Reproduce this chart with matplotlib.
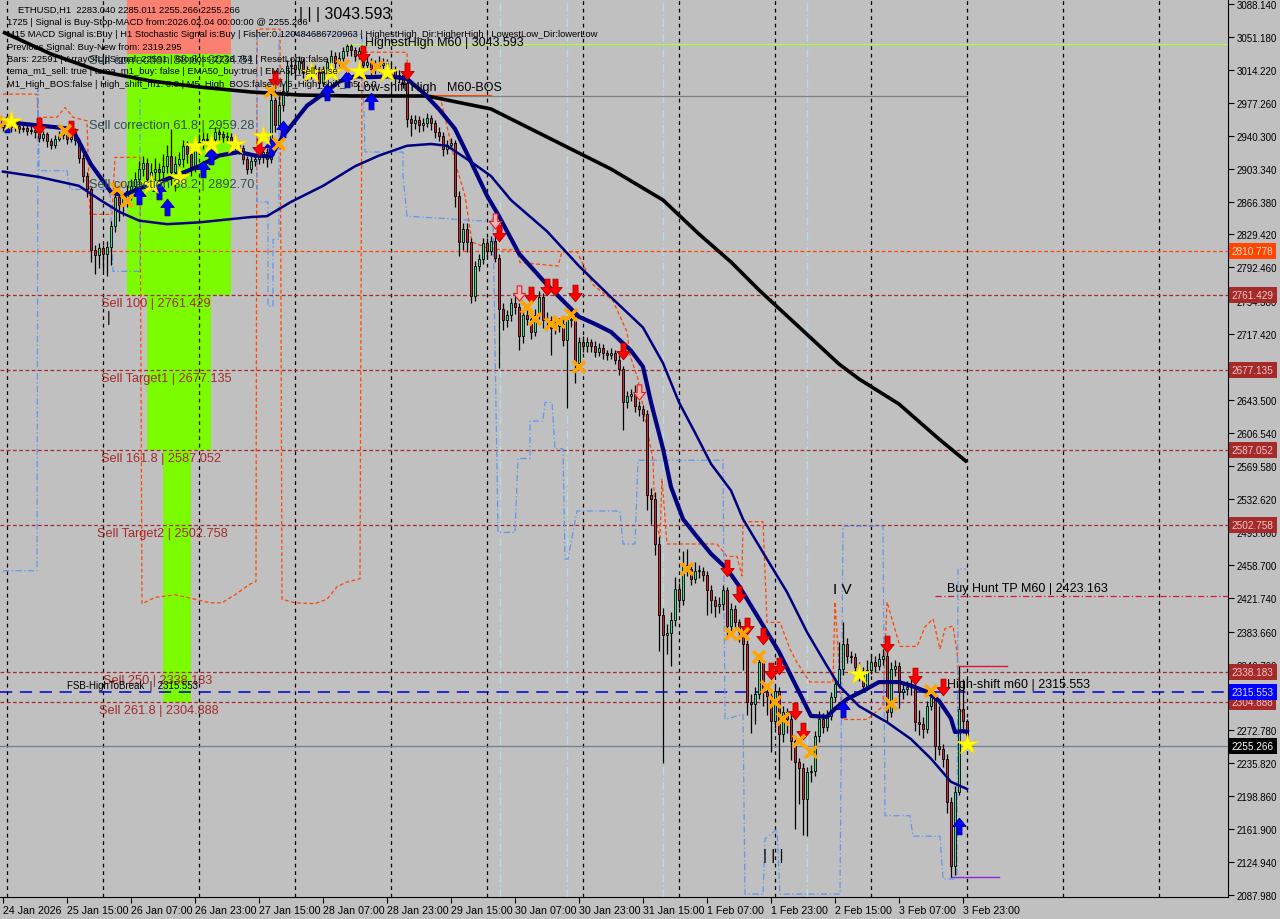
import matplotlib
matplotlib.use('Agg')
import matplotlib.pyplot as plt
import matplotlib.transforms as mtransforms
from matplotlib.path import Path
from matplotlib.patches import Rectangle
import numpy as np

plt.rcParams['font.family'] = ['Liberation Sans', 'DejaVu Sans']

# ---------------- data ----------------
closes = [2955, 2953, 2950, 2951, 2948, 2949, 2946, 2947, 2944, 2938,
          2942, 2934, 2930, 2937, 2941, 2943, 2937, 2945, 2935, 2915,
          2895, 2880, 2812, 2806, 2814, 2807, 2815, 2839, 2872, 2862,
          2870, 2878, 2884, 2892, 2903, 2910, 2892, 2899, 2903, 2899,
          2906, 2918, 2899, 2908, 2914, 2929, 2920, 2903, 2929, 2933,
          2937, 2935, 2937, 2944, 2942, 2939, 2939, 2931, 2931, 2927,
          2914, 2903, 2912, 2914, 2916, 2922, 2914, 2980, 2952, 2975,
          2990, 3018, 3020, 3015, 3024, 3012, 3010, 3015, 3012, 3000,
          3012, 3023, 3030, 3022, 3028, 3035, 3041, 3037, 3030, 3035,
          3020, 3023, 3015, 3018, 3020, 3022, 3013, 3015, 3005, 3008,
          3000, 2959, 2955, 2958, 2952, 2955, 2960, 2954, 2945, 2940,
          2925, 2930, 2932, 2873, 2821, 2836, 2821, 2760, 2794, 2802,
          2820, 2811, 2822, 2803, 2746, 2733, 2739, 2752, 2748, 2715,
          2739, 2735, 2720, 2739, 2759, 2733, 2733, 2724, 2727, 2729,
          2711, 2733, 2735, 2685, 2709, 2704, 2709, 2704, 2698, 2702,
          2696, 2694, 2696, 2689, 2678, 2641, 2648, 2650, 2637, 2633,
          2628, 2537, 2532, 2482, 2402, 2380, 2382, 2397, 2432, 2419,
          2458, 2454, 2443, 2452, 2452, 2447, 2430, 2419, 2412, 2415,
          2430, 2390, 2409, 2394, 2383, 2370, 2305, 2302, 2314, 2349,
          2316, 2311, 2283, 2317, 2269, 2293, 2286, 2261, 2237, 2230,
          2196, 2226, 2227, 2266, 2286, 2277, 2289, 2310, 2325, 2342,
          2370, 2356, 2355, 2344, 2338, 2323, 2340, 2349, 2345, 2353,
          2356, 2293, 2342, 2345, 2316, 2319, 2321, 2323, 2282, 2280,
          2274, 2300, 2310, 2255, 2252, 2241, 2192, 2120, 2204, 2297,
          2283.04, 2255.266]

highs = [2960, 2958, 2956, 2955, 2954, 2953, 2952, 2951, 2950, 2948,
         2946, 2945, 2938, 2941, 2946, 2950, 2947, 2950, 2949, 2938,
         2920, 2900, 2884, 2818, 2820, 2818, 2822, 2845, 2880, 2878,
         2876, 2885, 2892, 2900, 2912, 2918, 2915, 2910, 2915, 2910,
         2920, 2930, 2948, 2918, 2922, 2935, 2934, 2925, 2936, 2942,
         2945, 2943, 2941, 2950, 2948, 2946, 2944, 2943, 2936, 2934,
         2930, 2918, 2918, 2920, 2922, 2928, 2926, 2988, 2992, 2985,
         2998, 3025, 3028, 3026, 3030, 3028, 3018, 3022, 3020, 3016,
         3018, 3028, 3036, 3034, 3034, 3040, 3043.593, 3043, 3040, 3040,
         3038, 3030, 3028, 3025, 3030, 3028, 3026, 3022, 3018, 3014,
         3012, 3004, 2964, 2963, 2962, 2960, 2966, 2964, 2958, 2950,
         2944, 2936, 2938, 2935, 2878, 2842, 2842, 2826, 2800, 2808,
         2826, 2825, 2828, 2830, 2808, 2752, 2745, 2758, 2760, 2752,
         2744, 2745, 2740, 2746, 2766, 2764, 2742, 2738, 2734, 2736,
         2734, 2738, 2748, 2740, 2714, 2716, 2714, 2712, 2710, 2708,
         2706, 2700, 2702, 2700, 2694, 2682, 2654, 2656, 2660, 2642,
         2638, 2632, 2545, 2540, 2490, 2410, 2392, 2406, 2445, 2438,
         2474, 2476, 2460, 2462, 2458, 2456, 2452, 2436, 2424, 2422,
         2436, 2434, 2416, 2414, 2398, 2388, 2374, 2314, 2322, 2356,
         2352, 2322, 2316, 2324, 2322, 2300, 2298, 2292, 2266, 2242,
         2236, 2232, 2234, 2272, 2294, 2292, 2296, 2316, 2332, 2372,
         2394, 2376, 2362, 2360, 2350, 2344, 2352, 2358, 2356, 2360,
         2364, 2362, 2350, 2352, 2350, 2326, 2328, 2330, 2328, 2296,
         2288, 2306, 2318, 2316, 2300, 2258, 2246, 2198, 2210, 2345,
         2330, 2285.011]

lows = [2946, 2948, 2945, 2946, 2943, 2944, 2941, 2942, 2938, 2933,
        2934, 2928, 2925, 2927, 2934, 2937, 2931, 2933, 2930, 2910,
        2888, 2872, 2798, 2785, 2792, 2788, 2783, 2795, 2832, 2845,
        2850, 2860, 2868, 2876, 2885, 2895, 2880, 2882, 2890, 2888,
        2890, 2898, 2885, 2878, 2900, 2905, 2910, 2895, 2900, 2920,
        2925, 2928, 2929, 2932, 2935, 2933, 2934, 2925, 2924, 2920,
        2908, 2897, 2898, 2906, 2908, 2910, 2905, 2910, 2945, 2948,
        2968, 2985, 3008, 3006, 3010, 3005, 3002, 3004, 3005, 2994,
        2996, 3008, 3018, 3016, 3018, 3024, 3030, 3030, 3024, 3026,
        3014, 3015, 3009, 3010, 3012, 3015, 3006, 3008, 2998, 2999,
        2994, 2950, 2940, 2948, 2945, 2946, 2950, 2947, 2938, 2934,
        2918, 2920, 2925, 2860, 2805, 2812, 2810, 2753, 2755, 2788,
        2796, 2804, 2806, 2798, 2680, 2722, 2726, 2732, 2740, 2700,
        2708, 2728, 2712, 2715, 2734, 2725, 2724, 2694, 2718, 2720,
        2704, 2635, 2726, 2663, 2680, 2698, 2698, 2698, 2692, 2693,
        2690, 2688, 2690, 2684, 2672, 2610, 2635, 2642, 2630, 2626,
        2620, 2520, 2505, 2470, 2362, 2236, 2358, 2345, 2390, 2410,
        2414, 2446, 2436, 2438, 2444, 2440, 2402, 2404, 2400, 2405,
        2408, 2380, 2382, 2385, 2372, 2340, 2290, 2270, 2280, 2308,
        2300, 2290, 2248, 2276, 2218, 2260, 2270, 2240, 2162, 2190,
        2155, 2154, 2215, 2222, 2260, 2270, 2272, 2284, 2305, 2320,
        2335, 2348, 2348, 2336, 2328, 2316, 2318, 2336, 2338, 2340,
        2346, 2282, 2288, 2334, 2298, 2308, 2312, 2312, 2272, 2268,
        2264, 2270, 2296, 2240, 2245, 2232, 2180, 2108, 2110, 2200,
        2270, 2255.266]

first_open = 2950
opens = [first_open] + closes[:-1]

time_ticks = list(range(0, 241, 16))
time_labels = ['24 Jan 2026', '25 Jan 15:00', '26 Jan 07:00', '26 Jan 23:00', '27 Jan 15:00',
               '28 Jan 07:00', '28 Jan 23:00', '29 Jan 15:00', '30 Jan 07:00', '30 Jan 23:00',
               '31 Jan 15:00', '1 Feb 07:00', '1 Feb 23:00', '2 Feb 15:00', '3 Feb 07:00',
               '3 Feb 23:00']
day_starts = list(range(1, 300, 24))

price_ticks = [3088.140, 3051.180, 3014.220, 2977.260, 2940.300, 2903.340, 2866.380,
               2829.420, 2792.460, 2754.380, 2717.420, 2680.460, 2643.500, 2606.540,
               2569.580, 2532.620, 2495.660, 2458.700, 2421.740, 2383.660, 2346.700,
               2309.740, 2272.780, 2235.820, 2198.860, 2161.900, 2124.940, 2087.980]

# moving averages (bar index, price)
ma200_idx = [0, 12, 24, 37, 49, 62, 74, 87, 106, 122, 137, 152, 157, 165, 174, 182, 189,
             199, 209, 214, 224, 234, 241]
ma200_val = [3056.7, 3032.0, 3012.9, 3001.7, 2995.0, 2989.4, 2986.0, 2984.9, 2984.9, 2970.3,
             2936.6, 2902.9, 2889.5, 2868.1, 2829.9, 2798.5, 2767.1, 2725.6, 2684.0, 2667.2,
             2639.1, 2599.8, 2574.0]

ema_fast_idx = [0, 17, 18, 22, 27, 30, 34, 39, 44, 49, 54, 59, 63, 67, 70, 76, 80, 84, 88, 92,
                97, 101, 105, 109, 113, 117, 121, 124, 129, 136, 140, 144, 148, 152, 157, 160,
                162, 165, 167, 170, 173, 177, 181, 184, 189, 194, 199, 202, 206, 208, 211, 215,
                219, 224, 227, 231, 234, 237, 238, 240, 241]
ema_fast_val = [2956, 2948, 2942, 2908, 2877, 2873, 2881, 2888, 2897, 2906, 2918, 2922, 2918,
                2917, 2940, 2974, 2987, 3001, 3007, 3006, 3007, 3004, 2989, 2970, 2948, 2911,
                2873, 2850, 2808, 2773, 2755, 2737, 2729, 2720, 2699, 2681, 2641, 2589, 2546,
                2510, 2493, 2471, 2454, 2435, 2398, 2361, 2316, 2289, 2288, 2297, 2308, 2317,
                2327, 2327, 2323, 2316, 2306, 2286, 2271, 2272, 2271]

ema_slow_idx = [0, 9, 19, 24, 29, 34, 41, 49, 62, 66, 72, 80, 88, 94, 101, 107, 111, 113, 117,
                122, 127, 136, 144, 152, 160, 165, 169, 173, 177, 182, 185, 191, 196, 201, 206,
                209, 214, 221, 227, 232, 237, 241]
ema_slow_val = [2900, 2894, 2884, 2869, 2855, 2845, 2841, 2843, 2849, 2850, 2866, 2884, 2906,
                2918, 2929, 2931, 2929, 2923, 2911, 2895, 2868, 2833, 2794, 2759, 2725, 2685,
                2641, 2607, 2572, 2542, 2510, 2465, 2428, 2383, 2345, 2323, 2300, 2282, 2263,
                2241, 2215, 2207]

# channel lines (bar index, price)
upper_idx = [0, 8.5, 8.75, 13.5, 15.5, 17.5, 21, 21.75, 27.25, 28, 34.25, 34.75, 38, 43, 48,
             51.75, 54.75, 58, 61.75, 63.25, 63.5, 69.25, 69.75, 73, 78, 81, 83.5, 85.75, 89.25,
             89.75, 101, 101.25, 109.25, 111, 113, 115.5, 117.25, 121.75, 128.5, 129.25, 138.75,
             139.75, 143.5, 147.5, 152.5, 156, 156.75, 158.75, 160.5, 162.5, 163, 164.25, 164.75,
             166, 178.5, 181, 183.5, 184.75, 185, 190, 191, 194.25, 196.75, 198.5, 201.75, 207.5,
             208, 209.25, 209.75, 216, 220, 221, 224.25, 228.5, 230.5, 232.5, 234.25, 235.5,
             237.5, 238.5, 239.25, 240.75]
upper_val = [2987, 2987, 2961, 2961, 2972, 2961, 2957, 2852, 2852, 2916, 2916, 2415, 2422, 2425,
             2420, 2416, 2416, 2425, 2437, 2440, 3060, 3060, 2420, 2416, 2415, 2420, 2434, 2439,
             2443, 3034, 3034, 2985, 2985, 2951, 2911, 2873, 2821, 2813, 2812, 2798, 2794, 2810,
             2810, 2773, 2755, 2720, 2694, 2667, 2624, 2576, 2510, 2489, 2555, 2482, 2482, 2468,
             2468, 2446, 2507, 2507, 2394, 2394, 2364, 2349, 2327, 2327, 2417, 2330, 2285, 2285,
             2300, 2417, 2367, 2367, 2389, 2398, 2364, 2387, 2390, 2361, 2297, 2285]

lower_idx = [0, 8.5, 8.75, 9, 16, 16.75, 26.75, 27.5, 34.25, 34.25, np.nan, 63.5, 63.5, 66.25,
             66.25, 67.5, 67.5, 69, 69, 89.75, 90.5, 100, 100, 101, 121.75, 122.5, 123.75, 128,
             128.75, 131.75, 131.75, 135, 135.5, 137.25, 138, 140, 140.5, 141.25, 143.5, 154.25,
             155, 158, 158.75, 180, 180.5, 185, 185.5, 190, 190.5, 193.5, 194.25, 209.25, 210,
             220, 220.5, 226.75, 227.5, 234.25, 235, 238.5, 238.75, 240.75]
lower_val = [2452, 2452, 2993, 2901, 2901, 2880, 2880, 2788, 2788, 2981, np.nan, 3054, 2866,
             2866, 2749, 2749, 2824, 2824, 3054, 3054, 2922, 2922, 2895, 2850, 2844, 2847, 2495,
             2495, 2578, 2578, 2620, 2620, 2641, 2641, 2589, 2589, 2465, 2465, 2519, 2519, 2482,
             2482, 2576, 2576, 2285, 2291, 2089, 2089, 2151, 2162, 2089, 2089, 2502, 2502, 2177,
             2177, 2154, 2154, 2106, 2106, 2454, 2454]

# signals
sell_idx = [9, 17, 64, 68, 90, 101, 124, 132, 136, 138, 143, 155, 181, 184, 186, 190, 192, 194,
            198, 200, 221, 228, 235]
sell_val = [2951, 2948, 2928, 3004, 3032, 3013, 2831, 2761, 2770, 2770, 2764, 2699, 2455, 2426,
            2390, 2379, 2339, 2345, 2295, 2272, 2370, 2334, 2321]
sell_hollow_idx = [123, 129, 159]
sell_hollow_val = [2844, 2764, 2653]
buy_idx = [1, 34, 39, 41, 50, 52, 67, 70, 81, 86, 92, 210, 239]
buy_val = [2953, 2873, 2878, 2860, 2903, 2917, 2928, 2948, 2989, 3004, 2979, 2297, 2165]
star_idx = [2, 37, 44, 48, 52, 58, 65, 77, 82, 89, 96, 214, 241]
star_val = [2957, 2886, 2894, 2929, 2931, 2931, 2940, 3012, 3012, 3013, 3012, 2336, 2257]
cross_idx = [0.5, 15.5, 28.5, 31, 67, 69, 85, 93.5, 131, 133, 137, 139, 142, 144, 171, 182, 185,
             189, 191, 193, 195, 199, 202, 222, 232]
cross_val = [2956, 2946, 2880, 2867, 2990, 2931, 3019, 3017, 2748, 2734, 2729, 2731, 2739, 2681,
             2454, 2381, 2381, 2355, 2321, 2305, 2286, 2261, 2248, 2302, 2317]

# levels
fib_names = ['Sell 100', 'Sell Target1', 'Sell 161.8', 'Sell Target2', 'Sell 250', 'Sell 261.8']
fib_levels = [2761.429, 2677.135, 2587.052, 2502.758, 2338.183, 2304.888]
sell_top_level = 2810.778
fsb_high = 2315.553
buy_hunt_tp = 2423.163
bid = 2255.266
highest_high = 3043.593
bos_level = 2984.9
corr_names = ['Sell correction 61.8', 'Sell correction 38.2']
corr_levels = [2959.28, 2892.70]

zone_left = [31, 36, 40]
zone_right = [57, 52, 47]
zone_top = [3032, 2761.429, 2587.052]
zone_bottom = [2761.429, 2587.052, 2304.888]

# ---------------- figure ----------------
W, H = 1280, 920
BG = '#C0C0C0'
fig = plt.figure(figsize=(W / 100, H / 100), dpi=100, facecolor=BG)
ax = fig.add_axes([0, 1 - 898 / H, 1228 / W, 898 / H], facecolor=BG)
ax.set_xlim(-0.75, 306.25)
ax.set_ylim(2085.75, 3093.75)


def fx(x):
    return x / W


def fy(y):
    return 1 - y / H


# zones
ax.add_patch(Rectangle((zone_left[0], zone_top[0]), zone_right[0] - zone_left[0],
                       3093.75 - zone_top[0], fc='#FA8072', ec='none', zorder=0))
for l, r, t, b in zip(zone_left, zone_right, zone_top, zone_bottom):
    ax.add_patch(Rectangle((l, b), r - l, t - b, fc='#7CFC00', ec='none', zorder=0))

# day separators & misc verticals
for d in day_starts:
    ax.axvline(d, color='black', lw=0.9, ls=(0, (3, 3)), zorder=1)
for v in [124.25, 141, 165, 201]:
    ax.axvline(v, color='#B0E0E6', lw=1.0, ls=(0, (6, 2, 1, 2)), zorder=1)

# horizontal levels
ax.axhline(sell_top_level, color='#FF4500', lw=0.9, ls=(0, (3, 2)), zorder=1)
for lv in fib_levels:
    ax.axhline(lv, color='#A52A2A', lw=0.9, ls=(0, (3, 2)), zorder=1)
ax.axhline(fsb_high, color='#0000CD', lw=1.1, ls=(0, (8, 5)), zorder=1)
ax.axhline(bid, color='#708090', lw=0.9, zorder=1)
ax.plot([233, 306.25], [buy_hunt_tp, buy_hunt_tp], color='#DC143C', lw=0.9,
        ls=(0, (5, 2, 1, 2)), zorder=1)
ax.plot([86, 306.25], [highest_high, highest_high], color='#ADFF2F', lw=0.8, zorder=1)
ax.plot([88, 241], [bos_level, bos_level], color='#808080', lw=0.9, zorder=1)
ax.plot([84, 122], [bos_level + 1, bos_level + 1], color='#FF4500', lw=0.8, zorder=1)
ax.plot([239, 251], [highs[239], highs[239]], color='#DC143C', lw=1.0, zorder=2)
ax.plot([237, 249], [lows[237], lows[237]], color='#8A2BE2', lw=1.0, zorder=2)

# channel lines
ax.plot(upper_idx, upper_val, color='#FF4500', lw=0.9, ls=(0, (3, 2)), zorder=2)
ax.plot(lower_idx, lower_val, color='#6495ED', lw=0.9, ls=(0, (5, 2, 1, 2)), zorder=2)

# candles
xi = np.arange(len(closes))
o = np.array(opens, float)
c = np.array(closes, float)
h = np.array(highs, float)
lo = np.array(lows, float)
up = c >= o
ax.vlines(xi, lo, h, color='black', lw=0.9, zorder=3)
body = np.where(np.abs(c - o) < 0.8, 0.8, c - o)
ax.bar(xi[up], body[up], bottom=o[up], width=0.62, color='#2EE88A', edgecolor='black',
       lw=0.6, zorder=4)
ax.bar(xi[~up], body[~up], bottom=o[~up], width=0.62, color='#D42335', edgecolor='black',
       lw=0.6, zorder=4)

# moving averages
ax.plot(ma200_idx, ma200_val, color='black', lw=2.6, zorder=5, solid_capstyle='butt')
ax.plot(ema_slow_idx, ema_slow_val, color='#000080', lw=1.8, zorder=5)
ax.plot(ema_fast_idx, ema_fast_val, color='#000080', lw=3.0, zorder=5)

# markers
down_arrow = Path([(-0.3, 1.0), (0.3, 1.0), (0.3, 0.0), (0.8, 0.0), (0.0, -1.0), (-0.8, 0.0),
                   (-0.3, 0.0), (-0.3, 1.0)],
                  [Path.MOVETO] + [Path.LINETO] * 6 + [Path.CLOSEPOLY])
up_arrow = Path([(x, -y) for x, y in down_arrow.vertices], down_arrow.codes)
ax.plot(sell_idx, sell_val, ls='none', marker=down_arrow, ms=12, mfc='#FF0000', mec='#B00000',
        mew=0.6, zorder=6)
ax.plot(sell_hollow_idx, sell_hollow_val, ls='none', marker=down_arrow, ms=11, mfc='#F4B0B0',
        mec='#E02020', mew=0.8, zorder=6)
ax.plot(buy_idx, buy_val, ls='none', marker=up_arrow, ms=12, mfc='#0000FF', mec='#000090',
        mew=0.6, zorder=6)
ax.plot(cross_idx, cross_val, ls='none', marker='x', ms=8, mec='#FFA500', mew=2.6, zorder=6)
ax.plot(star_idx, star_val, ls='none', marker='*', ms=16, mfc='#FFFF00', mec='#FFD700',
        mew=0.5, zorder=7)

# axes styling
for s in ['left', 'top']:
    ax.spines[s].set_visible(False)
ax.spines['right'].set_color('black')
ax.spines['bottom'].set_color('black')
ax.yaxis.tick_right()
ax.set_yticks(price_ticks)
ax.set_yticklabels(['%.3f' % p for p in price_ticks], fontsize=7)
ax.set_xticks(time_ticks)
ax.set_xticklabels(time_labels, fontsize=7.7, ha='left')
ax.tick_params(axis='y', direction='out', length=4, pad=2, color='black')
ax.tick_params(axis='x', direction='out', length=4, pad=2, color='black')

# price tags on the axis
trans = mtransforms.blended_transform_factory(ax.transAxes, ax.transData)
tags = [(sell_top_level, '#FF4500', '#FFE0D0')] + \
       [(lv, '#A52A2A', '#F2C8C8') for lv in fib_levels] + \
       [(fsb_high, '#0000FF', '#E0E0FF'), (bid, '#000000', '#FFFFFF')]
for val, fc, tc in tags:
    ax.text(1.003, val, '%.3f' % val, transform=trans, ha='left', va='center', fontsize=7.2,
            color=tc, zorder=10, clip_on=False,
            bbox=dict(boxstyle='square,pad=0.3', fc=fc, ec='none'))

# level labels
fib_text_x = [24.5, 24.5, 24.5, 23.5, 25, 24]
for name, lv, x in zip(fib_names, fib_levels, fib_text_x):
    ax.text(x, lv - 2, '%s | %.3f' % (name, lv), color='#A52A2A', fontsize=9.2, va='top',
            zorder=8)
for name, lv in zip(corr_names, corr_levels):
    ax.text(21.5, lv, '%s | %.2f' % (name, lv), color='#2F4F4F', fontsize=9.2, va='top', zorder=8)
ax.text(21.5, 3032, 'Sell correction 88.6 | 3034.81', color='#2F4F4F', fontsize=9.2, va='top',
        zorder=8)
ax.text(16, fsb_high + 2, 'FSB-HighToBreak  |  %.3f' % fsb_high, color='black', fontsize=7,
        va='bottom', zorder=8)
ax.text(236, fsb_high + 3, 'High-shift m60 | %.3f' % fsb_high, color='black', fontsize=9,
        va='bottom', zorder=8)
ax.text(236, buy_hunt_tp + 3, 'Buy Hunt TP M60 | %.3f' % buy_hunt_tp, color='black',
        fontsize=9, va='bottom', zorder=8)
ax.text(74, highest_high + 25, '| | | %.3f' % highest_high, color='black', fontsize=11.5,
        va='bottom', zorder=8)
ax.text(90.5, highest_high + 2, 'HighestHigh M60 | %.3f' % highest_high, color='black',
        fontsize=9, va='center', zorder=8)
ax.text(88.5, bos_level + 3, 'Low-shift High   M60-BOS', color='black', fontsize=9,
        va='bottom', zorder=8)
ax.text(207.5, 2432, 'I V', color='black', fontsize=11, va='center', zorder=8)
ax.text(190, 2133, '| | |', color='black', fontsize=11, va='center', zorder=8)
ax.text(26, 2737, '|', color='black', fontsize=10, va='center', zorder=8)

# header
header = ['ETHUSD,H1  2283.040 2285.011 2255.266 2255.266',
          '1725 | Signal is Buy-Stop-MACD from:2026.02.04 00:00:00 @ 2255.266',
          'M15 MACD Signal is:Buy | H1 Stochastic Signal is:Buy | Fisher:0.120484686720963 | '
          'HighestHigh_Dir:HigherHigh | LowestLow_Dir:lowerLow',
          'Previous Signal: Buy-New from: 2319.295',
          'Bars: 22591 | ArrayOfUpSignal: 22591 | Stoploss:2236.754 | ResetLoop:false',
          'tema_m1_sell: true | tema_m1_buy: false | EMA50_buy:true | EMA50_sell:false',
          'M1_High_BOS:false | High_shift_m1: 0.0 | M5_High_BOS:false | M5_High_shift_m5: 0.0']
for k, line in enumerate(header):
    fig.text(fx(18 if k == 0 else 7), fy(10 + 12.4 * k), line, fontsize=6.75, color='black',
             va='center', ha='left', zorder=20)

fig.savefig('out.png', dpi=100, facecolor=BG)
